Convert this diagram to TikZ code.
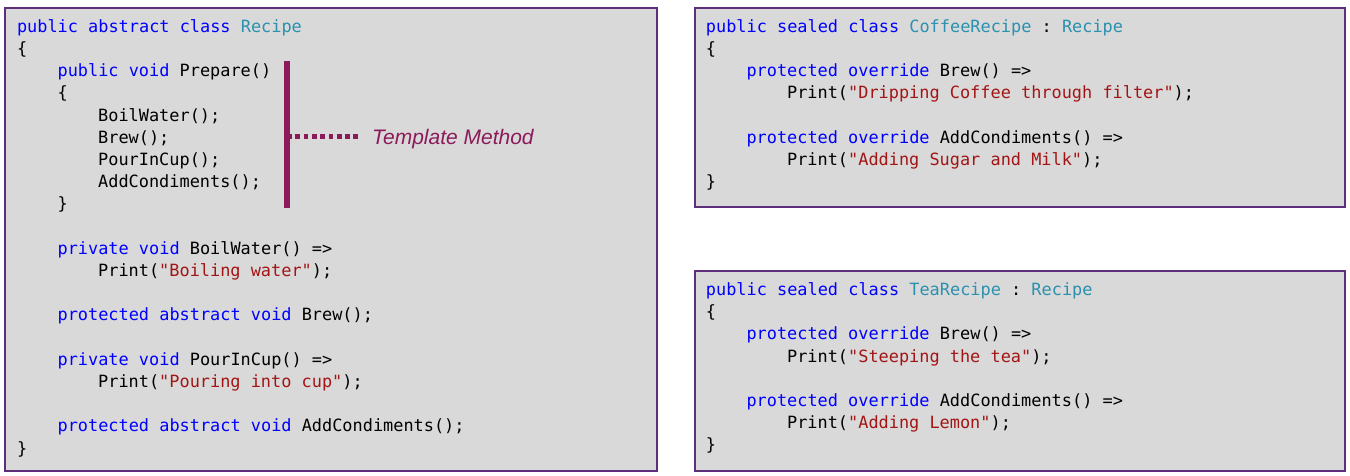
\documentclass[tikz,border=0pt]{standalone}
\usepackage{fontspec}
\setmonofont{DejaVu Sans Mono}
\newfontfamily\notefont{Liberation Sans}
\definecolor{kwblue}{RGB}{0,0,255}
\definecolor{tyteal}{RGB}{43,145,175}
\definecolor{strred}{RGB}{163,21,21}
\definecolor{boxline}{RGB}{93,46,122}
\definecolor{boxfill}{RGB}{217,217,217}
\definecolor{tmpl}{RGB}{139,26,90}
\newcommand{\cdkw}[1]{\textcolor{kwblue}{#1}}
\newcommand{\cdty}[1]{\textcolor{tyteal}{#1}}
\newcommand{\cdst}[1]{\textcolor{strred}{#1}}
\begin{document}
\begin{tikzpicture}[x=1pt,y=-1pt,
	codeline/.style={anchor=base west,inner sep=0pt,font=\ttfamily\fontsize{16.9}{20}\selectfont},
	codebox/.style={draw=boxline,fill=boxfill,line width=1.3pt},
	tmbar/.style={draw=tmpl,line width=6pt},
	tmlink/.style={draw=tmpl,line width=5.5pt,dash pattern=on 4.7pt off 3.6pt},
	tmnote/.style={anchor=base west,inner sep=0pt,text=tmpl,font=\notefont\itshape\fontsize{21}{24}\selectfont}]
		\useasboundingbox (0,0) rectangle (1350,476);
		% code boxes
		\draw[codebox] (5,8) rectangle (657,471);
		\draw[codebox] (695,8) rectangle (1345,207);
		\draw[codebox] (695,271) rectangle (1345,471);
		% abstract class
		\node[codeline] (rec0) at (16.8,32.3) {\cdkw{public abstract class} \cdty{Recipe}};
		\node[codeline] (rec1) at (16.8,54.5) {\{};
		\node[codeline] (rec2) at (57.4,76.7) {\cdkw{public void} Prepare()};
		\node[codeline] (rec3) at (57.4,98.9) {\{};
		\node[codeline] (rec4) at (98.0,121.1) {BoilWater();};
		\node[codeline] (rec5) at (98.0,143.3) {Brew();};
		\node[codeline] (rec6) at (98.0,165.5) {PourInCup();};
		\node[codeline] (rec7) at (98.0,187.7) {AddCondiments();};
		\node[codeline] (rec8) at (57.4,209.9) {\}};
		\node[codeline] (rec10) at (57.4,254.3) {\cdkw{private void} BoilWater() =>};
		\node[codeline] (rec11) at (98.0,276.5) {Print(\cdst{"Boiling water"});};
		\node[codeline] (rec13) at (57.4,320.9) {\cdkw{protected abstract void} Brew();};
		\node[codeline] (rec15) at (57.4,365.3) {\cdkw{private void} PourInCup() =>};
		\node[codeline] (rec16) at (98.0,387.5) {Print(\cdst{"Pouring into cup"});};
		\node[codeline] (rec18) at (57.4,431.9) {\cdkw{protected abstract void} AddCondiments();};
		\node[codeline] (rec19) at (16.8,454.1) {\}};
		% template method marker
		\coordinate (bartop) at (287,61);
		\coordinate (barbot) at (287,208);
		\coordinate (barmid) at (287,136.7);
		\coordinate (linkend) at (361,136.7);
		\draw[tmbar] (bartop) -- (barbot);
		\draw[tmlink] (barmid) -- (linkend);
		\node[tmnote] (tm) at (372,144.3) {Template Method};
		% coffee
		\node[codeline] (cof0) at (705.7,32.3) {\cdkw{public sealed class} \cdty{CoffeeRecipe} : \cdty{Recipe}};
		\node[codeline] (cof1) at (705.7,54.5) {\{};
		\node[codeline] (cof2) at (746.3,76.7) {\cdkw{protected override} Brew() =>};
		\node[codeline] (cof3) at (786.9,98.9) {Print(\cdst{"Dripping Coffee through filter"});};
		\node[codeline] (cof5) at (746.3,143.3) {\cdkw{protected override} AddCondiments() =>};
		\node[codeline] (cof6) at (786.9,165.5) {Print(\cdst{"Adding Sugar and Milk"});};
		\node[codeline] (cof7) at (705.7,187.7) {\}};
		% tea
		\node[codeline] (tea0) at (705.7,295.5) {\cdkw{public sealed class} \cdty{TeaRecipe} : \cdty{Recipe}};
		\node[codeline] (tea1) at (705.7,317.7) {\{};
		\node[codeline] (tea2) at (746.3,339.9) {\cdkw{protected override} Brew() =>};
		\node[codeline] (tea3) at (786.9,362.1) {Print(\cdst{"Steeping the tea"});};
		\node[codeline] (tea5) at (746.3,406.5) {\cdkw{protected override} AddCondiments() =>};
		\node[codeline] (tea6) at (786.9,428.7) {Print(\cdst{"Adding Lemon"});};
		\node[codeline] (tea7) at (705.7,450.9) {\}};
\end{tikzpicture}
\end{document}
